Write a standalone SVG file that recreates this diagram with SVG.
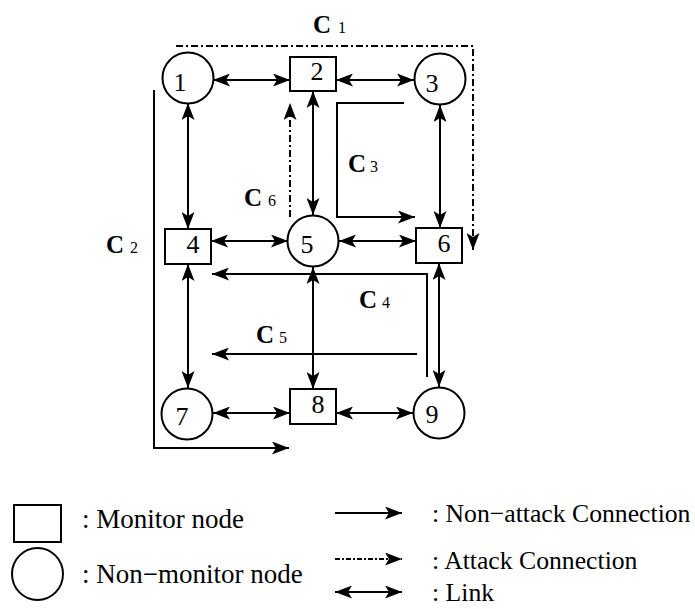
<svg xmlns="http://www.w3.org/2000/svg" width="695" height="609" viewBox="0 0 695 609">
<style>
.n{fill:#fff;stroke:#000;stroke-width:2}
.d{font-family:"Liberation Serif","Times New Roman",serif;font-size:26px;fill:#000}
.l{fill:none;stroke:#000;stroke-width:2}
.c{fill:none;stroke:#000;stroke-width:2}
.a{fill:none;stroke:#000;stroke-width:2;stroke-dasharray:7 3 2 3}
.cb{font-family:"Liberation Serif","Times New Roman",serif;font-size:25px;font-weight:bold;fill:#000}
.cs{font-family:"Liberation Serif","Times New Roman",serif;font-size:16px;fill:#000}
.t{font-family:"Liberation Serif","Times New Roman",serif;font-size:27px;fill:#000}
.tr{font-family:"Liberation Serif","Times New Roman",serif;font-size:25.7px;fill:#000}
</style>
<defs>
<marker id="ah" markerUnits="userSpaceOnUse" markerWidth="19" markerHeight="13" refX="17" refY="6.5" orient="auto-start-reverse">
<path d="M0,0 L17,6.5 L0,13 L4,6.5 Z" fill="#000"/>
</marker>
</defs>
<g id="connectors">
<path class="l" marker-start="url(#ah)" marker-end="url(#ah)" d="M213,80 H290"/>
<path class="l" marker-start="url(#ah)" marker-end="url(#ah)" d="M336,80 H414"/>
<path class="l" marker-start="url(#ah)" marker-end="url(#ah)" d="M188,103 V229"/>
<path class="l" marker-start="url(#ah)" marker-end="url(#ah)" d="M313,91 V215"/>
<path class="l" marker-start="url(#ah)" marker-end="url(#ah)" d="M440,105 V228"/>
<path class="l" marker-start="url(#ah)" marker-end="url(#ah)" d="M211,241 H288"/>
<path class="l" marker-start="url(#ah)" marker-end="url(#ah)" d="M339,241 H416"/>
<path class="l" marker-start="url(#ah)" marker-end="url(#ah)" d="M188,264 V388"/>
<path class="l" marker-start="url(#ah)" marker-end="url(#ah)" d="M313,267 V389"/>
<path class="l" marker-start="url(#ah)" marker-end="url(#ah)" d="M439,263 V387"/>
<path class="l" marker-start="url(#ah)" marker-end="url(#ah)" d="M213,413 H290"/>
<path class="l" marker-start="url(#ah)" marker-end="url(#ah)" d="M336,413 H413"/>
<path class="a" marker-end="url(#ah)" d="M176,46 H473 V250"/>
<path class="c" marker-end="url(#ah)" d="M154,90 V448 H289"/>
<path class="c" marker-end="url(#ah)" d="M404,103 H337 V217 H415"/>
<path class="c" marker-end="url(#ah)" d="M427,377 V274 H212"/>
<path class="c" marker-end="url(#ah)" d="M417,354 H212"/>
<path class="a" marker-end="url(#ah)" d="M290,217 V103"/>
<text class="cb" x="313" y="33">C</text><text class="cs" x="338" y="33">1</text>
<text class="cb" x="106" y="253">C</text><text class="cs" x="130" y="253">2</text>
<text class="cb" x="348" y="172">C</text><text class="cs" x="370" y="172">3</text>
<text class="cb" x="359" y="308">C</text><text class="cs" x="382" y="308">4</text>
<text class="cb" x="256" y="343">C</text><text class="cs" x="279" y="343">5</text>
<text class="cb" x="244" y="206">C</text><text class="cs" x="268" y="206">6</text>
</g>
<g id="node1"><circle class="n" cx="188" cy="78" r="25.5"/><text class="d" x="180" y="91" text-anchor="middle">1</text></g>
<g id="node2"><rect class="n" x="290" y="57" width="46" height="34"/><text class="d" x="317" y="80" text-anchor="middle">2</text></g>
<g id="node3"><circle class="n" cx="440" cy="79" r="25.5"/><text class="d" x="432" y="92" text-anchor="middle">3</text></g>
<g id="node4"><rect class="n" x="165" y="229" width="46" height="35"/><text class="d" x="193" y="253" text-anchor="middle">4</text></g>
<g id="node5"><circle class="n" cx="313" cy="241" r="25.5"/><text class="d" x="307" y="253" text-anchor="middle">5</text></g>
<g id="node6"><rect class="n" x="416" y="228" width="46" height="35"/><text class="d" x="444" y="252" text-anchor="middle">6</text></g>
<g id="node7"><circle class="n" cx="187" cy="414" r="25.5"/><text class="d" x="182" y="425" text-anchor="middle">7</text></g>
<g id="node8"><rect class="n" x="290" y="389" width="46" height="35"/><text class="d" x="318" y="413" text-anchor="middle">8</text></g>
<g id="node9"><circle class="n" cx="439" cy="413" r="25.5"/><text class="d" x="432" y="423" text-anchor="middle">9</text></g>
<g id="legend">
<rect class="n" x="14" y="505" width="47" height="37"/>
<ellipse class="n" cx="37.5" cy="574" rx="25.5" ry="26"/>
<text class="t" x="82" y="528">: Monitor node</text>
<text class="t" x="82" y="583">: Non−monitor node</text>
<path class="c" marker-end="url(#ah)" d="M335,513 H402"/>
<path class="c" marker-end="url(#ah)" d="M335,559 H402" stroke-dasharray="5 2 2 2"/>
<path class="l" marker-start="url(#ah)" marker-end="url(#ah)" d="M335,592 H402"/>
<text class="tr" x="432" y="522">: Non−attack Connection</text>
<text class="tr" x="432" y="569">: Attack Connection</text>
<text class="tr" x="432" y="601">: Link</text>
</g>
</svg>
